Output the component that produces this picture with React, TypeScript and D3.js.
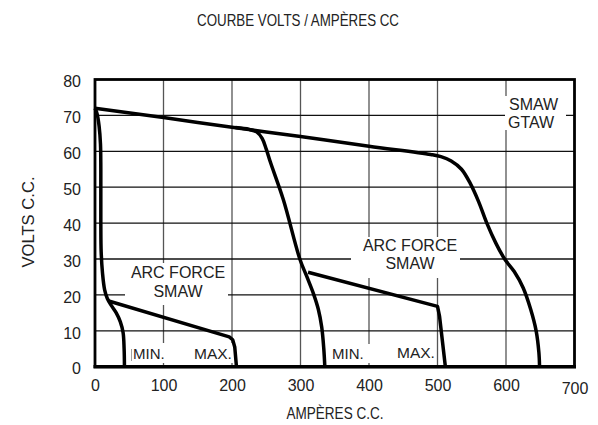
import { useRef, useEffect } from 'react';
import * as d3 from 'd3';

// amps ticks / volts ticks
const xTicks = [0, 100, 200, 300, 400, 500, 600, 700];
const yTicks = [0, 10, 20, 30, 40, 50, 60, 70, 80];

// [amps, volts]
const smawGtaw: [number, number][] = [
  [0, 72], [100, 69.4], [200, 66.7], [300, 64.1], [400, 61.4], [490, 59.1],
  [505, 58.5], [520, 57.3], [535, 55], [548, 51], [560, 46], [572, 40],
  [585, 34.5], [598, 30], [612, 26.5], [625, 22], [636, 16], [644, 10],
  [648, 4], [649, 0],
];
const maxSmaw: [number, number][] = [
  [205, 66.6], [225, 66.1], [236, 65.4], [244, 63.6], [250, 60.6], [256, 57],
  [275, 46.5], [299, 30], [309, 25.2], [319, 20.3], [326, 16], [331, 11],
  [334, 5], [335.5, 0],
];
const arcForceMax: [number, number][] = [[311, 26.3], [500, 16.8], [503, 14], [511.5, 0]];
const minSmaw: [number, number][] = [
  [0, 72], [3, 70.5], [6, 67], [8, 62], [8.5, 55], [8.5, 40], [9, 32], [11, 26],
  [14, 21.5], [18, 19], [24, 17], [31, 15], [37, 12.5], [41, 9.5], [42.5, 5], [43, 0],
];
const arcForceMin: [number, number][] = [[20, 18.3], [196, 8.3], [201, 7.5], [204, 5.5], [206.5, 0]];

const FONT = 'Liberation Sans, Arial, Helvetica, sans-serif';
const INK = '#222';

export default function App() {
  const ref = useRef<SVGSVGElement>(null);

  useEffect(() => {
    if (!ref.current) return;
    const svg = d3.select(ref.current);
    svg.selectAll('*').remove();

    const x = d3.scaleLinear().domain([0, 700]).range([95, 574.5]);
    const y = d3.scaleLinear().domain([0, 80]).range([366.7, 79.5]);

    // grid
    svg.append('g')
      .selectAll('line')
      .data(xTicks.slice(1, -1))
      .enter()
      .append('line')
      .attr('x1', (d) => x(d)).attr('x2', (d) => x(d))
      .attr('y1', y(80)).attr('y2', y(0))
      .attr('stroke', '#555').attr('stroke-width', 1.3);
    svg.append('g')
      .selectAll('line')
      .data(yTicks.slice(1, -1))
      .enter()
      .append('line')
      .attr('x1', x(0)).attr('x2', x(700))
      .attr('y1', (d) => y(d)).attr('y2', (d) => y(d))
      .attr('stroke', '#111').attr('stroke-width', 1.3);

    // white boxes behind labels
    const boxes = [
      [505, 96, 61, 34],
      [351, 237, 109, 41],
      [125, 263, 103, 42],
      [130, 343, 36, 20],
      [192, 343, 41, 20],
      [330, 344, 41, 19],
      [395, 344, 41, 19],
    ];
    svg.append('g')
      .selectAll('rect')
      .data(boxes)
      .enter()
      .append('rect')
      .attr('x', (d) => d[0]).attr('y', (d) => d[1])
      .attr('width', (d) => d[2]).attr('height', (d) => d[3])
      .attr('fill', '#fff');

    const label = (tx: number, ty: number, s: string, anchor = 'middle', size = 16) =>
      svg.append('text')
        .attr('x', tx).attr('y', ty)
        .attr('text-anchor', anchor)
        .attr('font-family', FONT).attr('font-size', size)
        .attr('fill', INK)
        .text(s);

    label(509, 109.5, 'SMAW', 'start', 16);
    label(508, 127.5, 'GTAW', 'start', 16);
    label(410, 250.5, 'ARC FORCE');
    label(410, 269, 'SMAW');
    label(178, 277.5, 'ARC FORCE');
    label(178, 296.5, 'SMAW');
    label(133, 359, 'MIN.', 'start', 15);
    label(194, 359, 'MAX.', 'start', 15.5);
    label(332, 359, 'MIN.', 'start', 15);
    label(397, 358, 'MAX.', 'start', 15.5);
    svg.append('line')
      .attr('x1', 131.5).attr('x2', 131.5).attr('y1', 349).attr('y2', 361)
      .attr('stroke', '#888').attr('stroke-width', 0.8);

    // curves
    const line = d3
      .line<[number, number]>()
      .x((d) => x(d[0]))
      .y((d) => y(d[1]))
      .curve(d3.curveCatmullRom.alpha(0.5));
    const straight = d3
      .line<[number, number]>()
      .x((d) => x(d[0]))
      .y((d) => y(d[1]));

    [smawGtaw, maxSmaw, minSmaw].forEach((c) => {
      svg.append('path').datum(c)
        .attr('fill', 'none').attr('stroke', '#000')
        .attr('stroke-width', 3.5).attr('stroke-linejoin', 'round')
        .attr('d', line);
    });
    [arcForceMax, arcForceMin].forEach((c) => {
      svg.append('path').datum(c)
        .attr('fill', 'none').attr('stroke', '#000')
        .attr('stroke-width', 3.5).attr('stroke-linejoin', 'round')
        .attr('d', straight);
    });

    // frame
    svg.append('rect')
      .attr('x', x(0)).attr('y', y(80))
      .attr('width', x(700) - x(0)).attr('height', y(0) - y(80))
      .attr('fill', 'none').attr('stroke', '#000').attr('stroke-width', 2.8);
    svg.append('line')
      .attr('x1', x(0) - 1.5).attr('x2', x(700) + 1.5)
      .attr('y1', y(0)).attr('y2', y(0))
      .attr('stroke', '#000').attr('stroke-width', 3.6);

    // axes (labels only)
    const gx = svg.append('g')
      .attr('transform', `translate(0,${y(0)})`)
      .call(d3.axisBottom(x).tickValues(xTicks).tickSize(0).tickPadding(13).tickFormat(d3.format('d')));
    gx.select('.domain').remove();
    gx.selectAll('text')
      .attr('font-family', FONT).attr('font-size', 16).attr('fill', INK)
      .attr('dy', (d) => ((d as number) === 700 ? '0.9em' : '0.71em'));

    const gy = svg.append('g')
      .attr('transform', `translate(${x(0)},0)`)
      .call(d3.axisLeft(y).tickValues(yTicks).tickSize(0).tickPadding(14).tickFormat(d3.format('d')));
    gy.select('.domain').remove();
    gy.selectAll('text')
      .attr('font-family', FONT).attr('font-size', 16).attr('fill', INK)
      .attr('dy', '0.45em');

    // titles (narrow lettering)
    svg.append('text')
      .attr('x', 298).attr('y', 26)
      .attr('text-anchor', 'middle')
      .attr('font-family', FONT).attr('font-size', 17).attr('fill', INK)
      .attr('textLength', 202).attr('lengthAdjust', 'spacingAndGlyphs')
      .text('COURBE VOLTS / AMPÈRES CC');
    svg.append('text')
      .attr('x', 335).attr('y', 419)
      .attr('text-anchor', 'middle')
      .attr('font-family', FONT).attr('font-size', 17).attr('fill', INK)
      .attr('textLength', 97).attr('lengthAdjust', 'spacingAndGlyphs')
      .text('AMPÈRES C.C.');
    svg.append('text')
      .attr('transform', 'translate(34,222) rotate(-90)')
      .attr('text-anchor', 'middle')
      .attr('font-family', FONT).attr('font-size', 17).attr('fill', INK)
      .attr('textLength', 91).attr('lengthAdjust', 'spacingAndGlyphs')
      .text('VOLTS C.C.');
  }, []);

  return (
    <svg
      ref={ref}
      width={598}
      height={425}
      style={{ position: 'absolute', left: 0, top: 0, background: '#fff' }}
    />
  );
}
